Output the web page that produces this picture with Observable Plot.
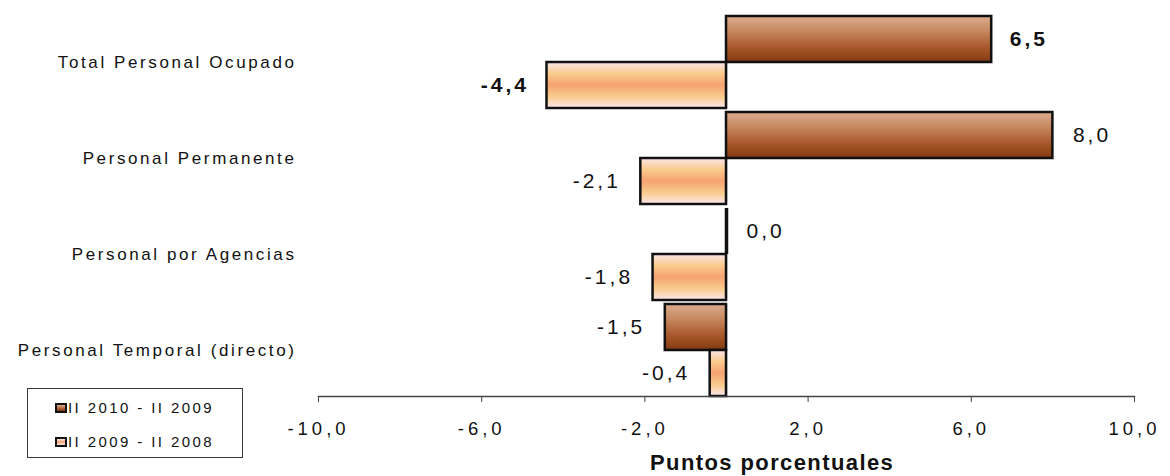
<!DOCTYPE html>
<html>
<head>
<meta charset="utf-8">
<script src="https://cdn.jsdelivr.net/npm/d3@7"></script>
<script src="https://cdn.jsdelivr.net/npm/@observablehq/plot@0.6"></script>
<style>
  html, body { margin: 0; padding: 0; background: #fff; }
  #chart { position: relative; width: 1170px; height: 476px; font-family: "Liberation Sans", Arial, sans-serif; }
  #chart svg { display: block; }
  g[aria-label="fy-axis tick label"] text { letter-spacing: 2.6px; }
  g[aria-label="x-axis tick label"] text { letter-spacing: 4px; }
  g[aria-label="text"] text { letter-spacing: 3px; }
  .legend { position: absolute; left: 27px; top: 388px; width: 214px; height: 68px; border: 1px solid #3a3a3a; background: #fff; }
  .legend .item { position: absolute; left: 27px; display: flex; align-items: center; font-size: 15px; letter-spacing: 2.4px; color: #111; line-height: 16px; white-space: nowrap; }
  .legend .sw { width: 8px; height: 6px; border: 2px solid #111; margin-right: 1px; }
  .axis-title { position: absolute; left: 650px; top: 452px; font-weight: bold; font-size: 22px; line-height: 22px; letter-spacing: 1.4px; color: #111; white-space: nowrap; }
</style>
</head>
<body>
<div id="chart"></div>
<script>
// Change in employment by type of staff, in percentage points
const categories = [
  "Total Personal Ocupado",
  "Personal Permanente",
  "Personal por Agencias",
  "Personal Temporal (directo)"
];
const seriesNames = ["II 2010 - II 2009", "II 2009 - II 2008"];
const change2010 = [6.5, 8.0, 0.0, -1.5];
const change2009 = [-4.4, -2.1, -1.8, -0.4];
const xTicks = [-10, -6, -2, 2, 6, 10];
const axisTitle = "Puntos porcentuales";

const rows = categories.flatMap((c, i) => [
  {category: c, series: seriesNames[0], value: change2010[i]},
  {category: c, series: seriesNames[1], value: change2009[i]}
]);

const fmt = v => v.toFixed(1).replace(".", ",");
const isTotal = d => d.category === categories[0];

function valueLabels(filter, anchor, dx, weight) {
  return Plot.text(rows.filter(filter), {
    fy: "category", y: "series", x: "value",
    text: d => fmt(d.value),
    textAnchor: anchor, dx,
    fontSize: 21, fontWeight: weight, fill: "#111"
  });
}

function bars(name, fill) {
  return Plot.barX(rows.filter(d => d.series === name), {
    fy: "category", y: "series", x: "value",
    fill, stroke: "#111", strokeWidth: 2.5
  });
}

const plot = Plot.plot({
  width: 1170,
  height: 476,
  marginLeft: 318,
  marginRight: 36,
  marginTop: 15,
  marginBottom: 79,
  style: {fontFamily: '"Liberation Sans", Arial, sans-serif', color: "#111", background: "#fff"},
  x: {domain: [-10, 10]},
  y: {domain: seriesNames, padding: 0, axis: null},
  fy: {domain: categories, paddingInner: 0.04, paddingOuter: 0},
  marks: [
    Plot.ruleX([0], {stroke: "#111", strokeWidth: 1.2}),
    bars(seriesNames[0], "url(#gradDark)"),
    bars(seriesNames[1], "url(#gradLight)"),
    // a zero-length bar collapses to its outline
    Plot.tickX(rows.filter(d => d.value === 0), {fy: "category", y: "series", x: "value", stroke: "#111", strokeWidth: 3.5}),
    Plot.frame({anchor: "bottom", facetAnchor: "bottom", stroke: "#444", strokeWidth: 1.5}),
    Plot.axisX({ticks: xTicks, tickFormat: fmt, tickSize: 6, tickPadding: 19, fontSize: 18.5, label: null, stroke: "#444"}),
    Plot.axisFy({anchor: "left", tickSize: 0, tickPadding: 22, fontSize: 17, label: null}),
    valueLabels(d => !isTotal(d) && d.value >= 0, "start", 20, "normal"),
    valueLabels(d => !isTotal(d) && d.value < 0, "end", -20, "normal"),
    valueLabels(d => isTotal(d) && d.value >= 0, "start", 18, "bold"),
    valueLabels(d => isTotal(d) && d.value < 0, "end", -18, "bold")
  ]
});

// Vertical gradients used by the two series
const defs = d3.select(plot).insert("defs", ":first-child");
function gradient(id, stops) {
  const g = defs.append("linearGradient").attr("id", id)
    .attr("x1", 0).attr("y1", 0).attr("x2", 0).attr("y2", 1);
  stops.forEach(([o, c]) => g.append("stop").attr("offset", o).attr("stop-color", c));
}
gradient("gradDark", [[0, "#dcac8c"], [0.3, "#c98b64"], [0.7, "#a65628"], [0.9, "#8f4419"], [1, "#7a3412"]]);
gradient("gradLight", [[0, "#fde6ea"], [0.25, "#f9cc8c"], [0.5, "#f6a272"], [0.75, "#f9cc8c"], [1, "#fde6ea"]]);

const chart = document.getElementById("chart");
chart.appendChild(plot);

// Legend box
const swatchFill = [
  "linear-gradient(to bottom, #dcac8c, #a65628 70%, #7a3412)",
  "linear-gradient(to bottom, #fde6ea, #f6a272 50%, #fde6ea)"
];
const legend = document.createElement("div");
legend.className = "legend";
seriesNames.forEach((name, i) => {
  const item = document.createElement("div");
  item.className = "item";
  item.style.top = (11 + i * 34) + "px";
  const sw = document.createElement("span");
  sw.className = "sw";
  sw.style.background = swatchFill[i];
  item.appendChild(sw);
  item.appendChild(document.createTextNode(name));
  legend.appendChild(item);
});
chart.appendChild(legend);

// Axis title
const title = document.createElement("div");
title.className = "axis-title";
title.textContent = axisTitle;
chart.appendChild(title);
</script>
</body>
</html>
